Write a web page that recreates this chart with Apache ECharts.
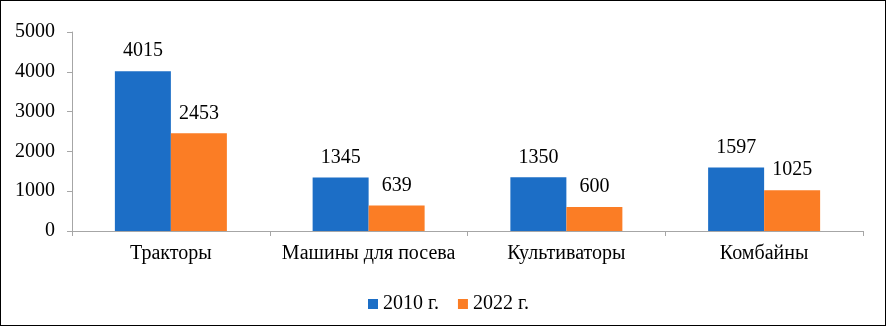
<!DOCTYPE html>
<html><head><meta charset="utf-8">
<script src="https://cdn.jsdelivr.net/npm/echarts@6/dist/echarts.min.js"></script>
<style>html,body{margin:0;padding:0;background:#fff}#c{width:886px;height:326px;box-sizing:border-box;border:1px solid #000}</style>
</head><body><div id="c"></div>
<script>
const categories = ['Тракторы', 'Машины для посева', 'Культиваторы', 'Комбайны'];
const seriesNames = ['2010 г.', '2022 г.'];
const values2010 = [4015, 1345, 1350, 1597];
const values2022 = [2453, 639, 600, 1025];
const yTicks = [0, 1000, 2000, 3000, 4000, 5000];

const font = '"Liberation Serif", "Times New Roman", serif';
const chart = echarts.init(document.getElementById('c'), null, {renderer: 'canvas'});
const lbl = {show: true, position: 'top', distance: 10, color: '#000', fontFamily: font, fontSize: 20};
chart.setOption({
  animation: false,
  textStyle: {fontFamily: font},
  grid: {left: 71, right: 22, top: 31, bottom: 94, containLabel: false},
  legend: {
    left: 362, top: 288, itemWidth: 10, itemHeight: 10, itemGap: 19,
    icon: 'rect',
    textStyle: {fontFamily: font, fontSize: 20, color: '#000'},
    data: seriesNames
  },
  xAxis: {
    type: 'category', data: categories,
    axisLine: {lineStyle: {color: '#a6a6a6'}},
    axisTick: {show: true, length: 5, lineStyle: {color: '#a6a6a6'}},
    axisLabel: {color: '#000', fontFamily: font, fontSize: 20, margin: 13, interval: 0}
  },
  yAxis: {
    type: 'value', min: yTicks[0], max: yTicks[yTicks.length - 1], interval: 1000,
    splitLine: {show: false},
    axisLine: {show: true, lineStyle: {color: '#a6a6a6'}},
    axisTick: {show: true, length: 5, lineStyle: {color: '#a6a6a6'}},
    axisLabel: {color: '#000', fontFamily: font, fontSize: 20, margin: 17, formatter: v => String(v)}
  },
  series: [
    {name: seriesNames[0], type: 'bar', data: values2010, barWidth: 56, barGap: '0%',
     itemStyle: {color: '#1c6ec6'}, label: lbl},
    {name: seriesNames[1], type: 'bar', data: values2022, barWidth: 56, barGap: '0%',
     itemStyle: {color: '#fb7d25'}, label: lbl}
  ]
});
</script></body></html>
